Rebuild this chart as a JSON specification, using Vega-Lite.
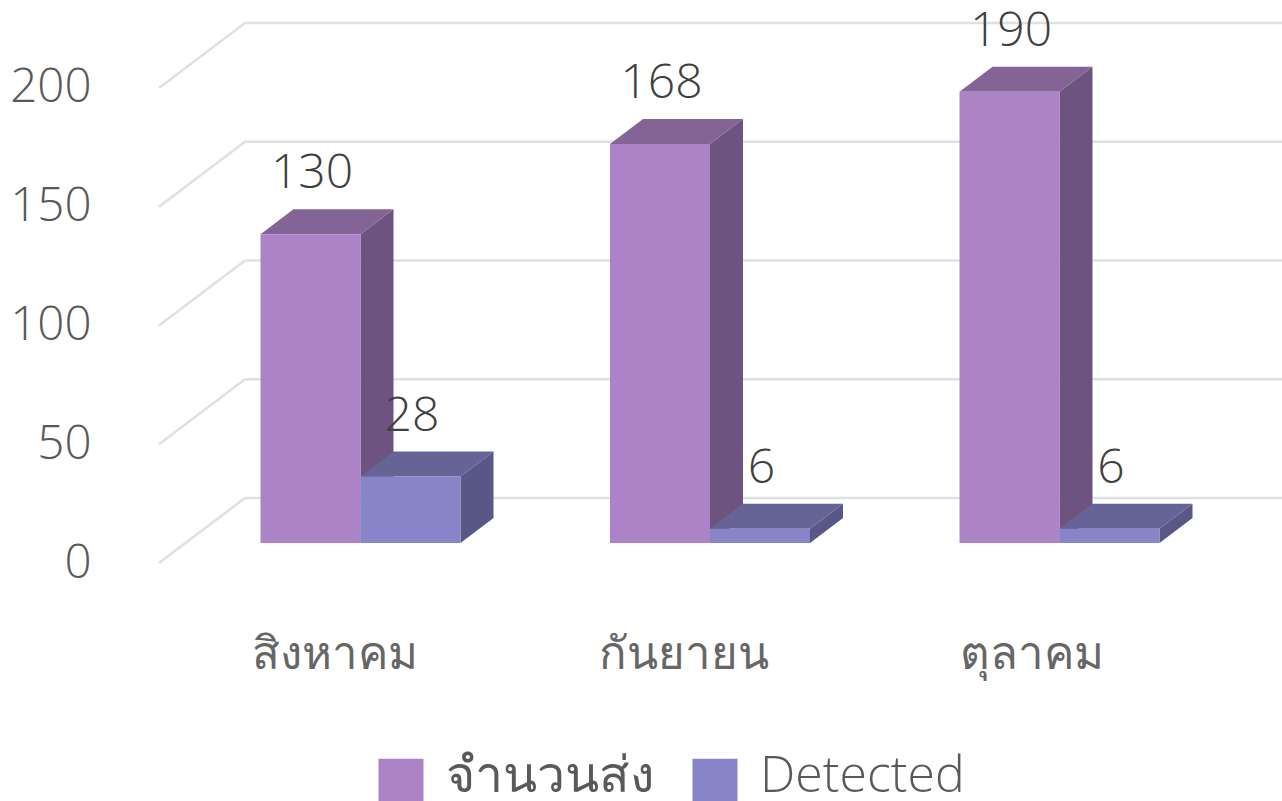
{
"$schema":"https://vega.github.io/schema/vega-lite/v6.json",
"width":1282,"height":801,"padding":0,"autosize":{"type":"none"},
"background":"white",
"config":{"view":{"stroke":null},"font":"Open Sans"},
"datasets":{
"bars":[
{"month":"สิงหาคม","series":"จำนวนส่ง","value":130,"m":0,"s":0},
{"month":"สิงหาคม","series":"Detected","value":28,"m":0,"s":1},
{"month":"กันยายน","series":"จำนวนส่ง","value":168,"m":1,"s":0},
{"month":"กันยายน","series":"Detected","value":6,"m":1,"s":1},
{"month":"ตุลาคม","series":"จำนวนส่ง","value":190,"m":2,"s":0},
{"month":"ตุลาคม","series":"Detected","value":6,"m":2,"s":1}
],
"ticks":[{"t":0},{"t":50},{"t":100},{"t":150},{"t":200}]
},
"transform":[],
"layer":[
{"data":{"name":"ticks"},
 "transform":[{"calculate":"159","as":"x0"},{"calculate":"245","as":"x1"},{"calculate":"datum.t-8.42","as":"yf"},{"calculate":"datum.t+18.95","as":"yb"}],
 "mark":{"type":"rule","color":"#E0E0E0","strokeWidth":2.5},
 "encoding":{
  "x":{"field":"x0","type":"quantitative","scale":{"domain":[0,1282],"range":[0,1282],"nice":false,"zero":false},"axis":null},
  "x2":{"field":"x1"},
  "y":{"field":"yf","type":"quantitative","scale":{"domain":[-108.63,228.63],"nice":false,"zero":false}},
  "y2":{"field":"yb"}}},
{"data":{"name":"ticks"},
 "transform":[{"calculate":"245","as":"x1"},{"calculate":"1282","as":"x3"},{"calculate":"datum.t+18.95","as":"yb"}],
 "mark":{"type":"rule","color":"#E0E0E0","strokeWidth":2.5},
 "encoding":{
  "x":{"field":"x1","type":"quantitative","axis":null},
  "x2":{"field":"x3"},
  "y":{"field":"yb","type":"quantitative"}}},
{"data":{"name":"ticks"},
 "mark":{"type":"rule","opacity":0},
 "encoding":{
  "y":{"field":"t","type":"quantitative","axis":{"title":null,"values":[0,50,100,150,200],"domain":false,"ticks":false,"grid":false,"labelFontSize":47.5,"labelFont":"Open Sans","labelFontWeight":300,"labelColor":"#595959","labelOffset":20,"offset":-91,"labelPadding":0,"labelBound":false,"labelFlush":false,"labelOverlap":false}}}},
{"data":{"name":"bars"},
 "transform":[{"calculate":"260.5+349.5*datum.m+100*datum.s","as":"left"},{"calculate":"[0,1]","as":"vtx"},{"flatten":["vtx"]},
  {"calculate":"datum.left+100+33*datum.vtx","as":"px"},
  {"calculate":"datum.value+10.5*datum.vtx","as":"hi"},
  {"calculate":"10.5*datum.vtx","as":"lo"},
  {"calculate":"datum.month+datum.series","as":"id"}],
 "mark":{"type":"area","opacity":1},
 "encoding":{
  "x":{"field":"px","type":"quantitative"},
  "y":{"field":"hi","type":"quantitative"},
  "y2":{"field":"lo"},
  "detail":{"field":"id"},
  "color":{"field":"series","type":"nominal","scale":{"domain":["จำนวนส่ง","Detected"],"range":["#6D5480","#585785"]},"legend":null}}},
{"data":{"name":"bars"},
 "transform":[{"calculate":"260.5+349.5*datum.m+100*datum.s","as":"left"},{"calculate":"[0,1,2,3]","as":"vtx"},{"flatten":["vtx"]},
  {"calculate":"datum.left+[0,33,100,133][datum.vtx]","as":"px"},
  {"calculate":"datum.value+[0,10.5,10.5,10.5][datum.vtx]","as":"hi"},
  {"calculate":"datum.value+[0,0,0,10.5][datum.vtx]","as":"lo"},
  {"calculate":"datum.month+datum.series","as":"id"}],
 "mark":{"type":"area","opacity":1},
 "encoding":{
  "x":{"field":"px","type":"quantitative"},
  "y":{"field":"hi","type":"quantitative"},
  "y2":{"field":"lo"},
  "detail":{"field":"id"},
  "color":{"field":"series","type":"nominal","scale":{"domain":["จำนวนส่ง","Detected"],"range":["#846496","#666496"]},"legend":null}}},
{"data":{"name":"bars"},
 "transform":[{"calculate":"260.5+349.5*datum.m+100*datum.s","as":"left"},{"calculate":"datum.left+100","as":"right"}],
 "mark":{"type":"bar"},
 "encoding":{
  "x":{"field":"left","type":"quantitative"},
  "x2":{"field":"right"},
  "y":{"field":"value","type":"quantitative"},
  "y2":{"datum":0},
  "color":{"field":"series","type":"nominal","title":null,"scale":{"domain":["จำนวนส่ง","Detected"],"range":["#AD83C7","#8784C7"]},
   "legend":{"orient":"none","legendX":376,"legendY":756,"direction":"horizontal","columns":2,"symbolType":"square","symbolSize":2025,"symbolStrokeWidth":0,"symbolOpacity":1,"labelFontSize":50,"labelFont":"Open Sans","labelFontWeight":200,"labelColor":"#595959","labelOffset":20,"columnPadding":36,"labelLimit":400,"title":null,"encode":{"labels":{"update":{"dy":{"value":-4}}}}}}}},
{"data":{"name":"bars"},
 "transform":[{"calculate":"260.5+349.5*datum.m+100*datum.s+50.5","as":"mid"}],
 "mark":{"type":"text","fontSize":48,"font":"Open Sans","fontWeight":300,"color":"#404040","dy":-60,"dx":1,"align":"center","baseline":"middle"},
 "encoding":{
  "x":{"field":"mid","type":"quantitative"},
  "y":{"field":"value","type":"quantitative"},
  "text":{"field":"value","type":"quantitative"}}},
{"data":{"name":"bars"},
 "transform":[{"filter":"datum.s==0"},{"calculate":"335+348.5*datum.m","as":"mid"},{"calculate":"-53","as":"ly"}],
 "mark":{"type":"text","fontSize":45.5,"font":"Noto Sans","fontWeight":100,"color":"#666666","align":"center","baseline":"alphabetic"},
 "encoding":{
  "x":{"field":"mid","type":"quantitative"},
  "y":{"field":"ly","type":"quantitative"},
  "text":{"field":"month","type":"nominal"}}}
],
"resolve":{"scale":{"color":"independent"}}
}
